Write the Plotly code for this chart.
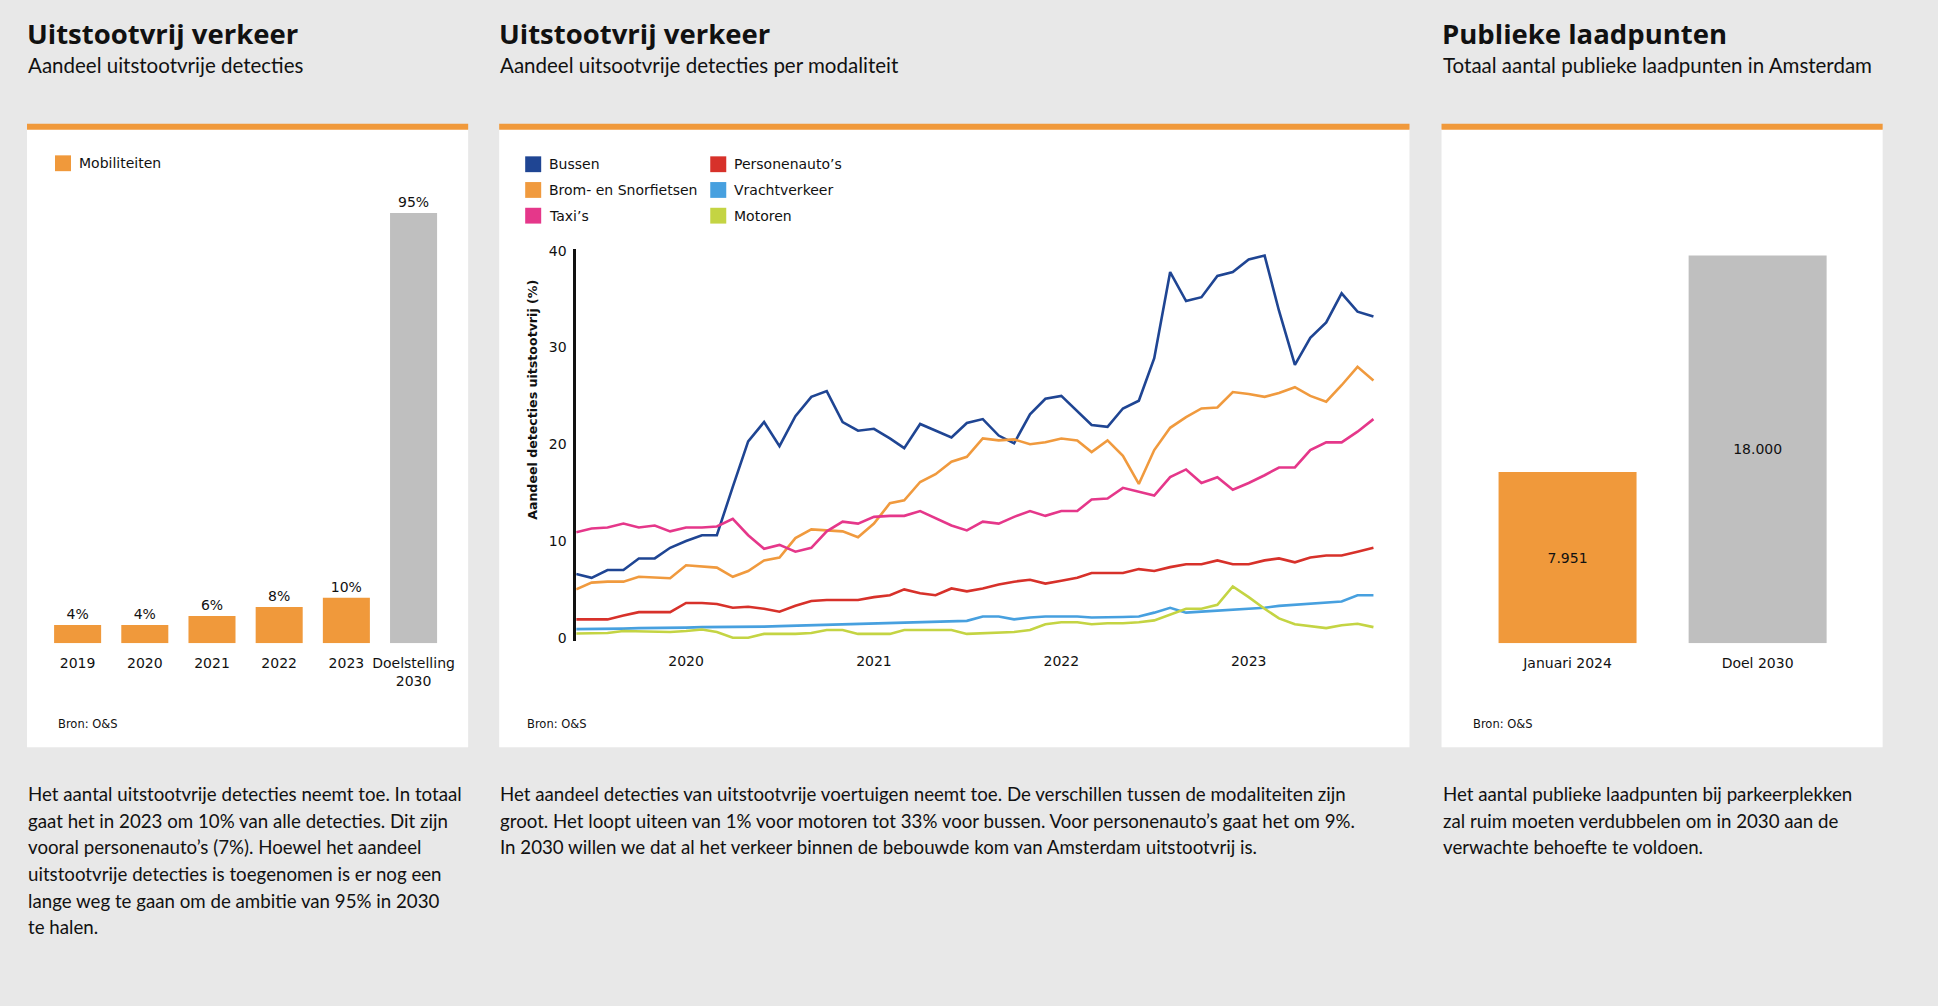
import pandas as pd
import plotly.graph_objects as go

W, H = 1938, 1006
BG = "#e8e8e8"
ORANGE = "#f0993b"
GREY = "#bfbfbf"
CHART_FONT = "DejaVu Sans"
TEXT_FONT = "Lato"
TITLE_FONT = "Open Sans"

# ---------------- data ----------------
years_cat = ["2019", "2020", "2021", "2022", "2023", "Doelstelling<br>2030"]
share_values = [4, 4, 6, 8, 10, 95]
share_labels = ["4%", "4%", "6%", "8%", "10%", "95%"]

months = pd.date_range("2019-06-01", periods=52, freq="MS")
bussen = [6.6, 6.2, 7.0, 7.0, 8.2, 8.2, 9.3, 10.0, 10.6, 10.6,
          15.6, 20.3, 22.3, 19.8, 22.9, 24.9, 25.5, 22.3, 21.4, 21.6,
          20.6, 19.6, 22.1, 21.4, 20.7, 22.2, 22.6, 20.9, 20.1, 23.1,
          24.7, 25.0, 23.4, 22.0, 21.8, 23.7, 24.5, 28.9, 37.8, 34.8,
          35.2, 37.4, 37.8, 39.1, 39.5, 33.8, 28.2, 31.0, 32.6, 35.6,
          33.7, 33.2]
brom = [5.0, 5.7, 5.8, 5.8, 6.3, 6.2, 6.15, 7.5, 7.4, 7.25,
        6.3, 6.9, 8.0, 8.3, 10.3, 11.2, 11.1, 11.0, 10.4, 11.8,
        13.9, 14.2, 16.1, 16.9, 18.2, 18.7, 20.6, 20.4, 20.5, 20.0,
        20.2, 20.6, 20.4, 19.2, 20.4, 18.8, 15.9, 19.4, 21.7, 22.8,
        23.7, 23.8, 25.4, 25.2, 24.9, 25.3, 25.9, 25.0, 24.4, 26.1,
        28.0, 26.6]
taxi = [10.9, 11.3, 11.4, 11.8, 11.4, 11.6, 11.0, 11.4, 11.4, 11.5,
        12.3, 10.6, 9.2, 9.6, 8.9, 9.3, 11.0, 12.0, 11.8, 12.5,
        12.6, 12.6, 13.1, 12.4, 11.6, 11.1, 12.0, 11.8, 12.5, 13.1,
        12.6, 13.1, 13.1, 14.3, 14.4, 15.5, 15.1, 14.7, 16.6, 17.4,
        16.0, 16.6, 15.3, 16.0, 16.8, 17.6, 17.6, 19.4, 20.2, 20.2,
        21.3, 22.6]
personenautos = [1.9, 1.9, 1.9, 2.3, 2.65, 2.65, 2.65, 3.6, 3.6, 3.5,
                 3.1, 3.2, 3.0, 2.7, 3.3, 3.8, 3.9, 3.9, 3.9, 4.2,
                 4.4, 5.0, 4.6, 4.4, 5.1, 4.8, 5.1, 5.5, 5.8, 6.0,
                 5.6, 5.9, 6.2, 6.7, 6.7, 6.7, 7.1, 6.9, 7.3, 7.6,
                 7.6, 8.0, 7.6, 7.6, 8.0, 8.2, 7.8, 8.3, 8.5, 8.5,
                 8.9, 9.3]
vracht = [0.9, 0.9, 0.95, 0.95, 1.0, 1.0, 1.05, 1.05, 1.1, 1.1,
          1.1, 1.15, 1.15, 1.2, 1.25, 1.3, 1.35, 1.4, 1.45, 1.5,
          1.55, 1.6, 1.65, 1.7, 1.75, 1.75, 2.2, 2.2, 1.9, 2.1,
          2.2, 2.2, 2.2, 2.1, 2.1, 2.15, 2.2, 2.6, 3.1, 2.6,
          2.7, 2.8, 2.9, 3.0, 3.1, 3.3, 3.4, 3.5, 3.6, 3.75,
          4.4, 4.4]
motoren = [0.45, 0.45, 0.5, 0.7, 0.65, 0.6, 0.6, 0.7, 0.85, 0.6,
           0.0, 0.0, 0.4, 0.4, 0.4, 0.5, 0.8, 0.8, 0.4, 0.4,
           0.4, 0.8, 0.8, 0.8, 0.8, 0.4, 0.45, 0.5, 0.6, 0.8,
           1.4, 1.6, 1.6, 1.4, 1.5, 1.5, 1.6, 1.8, 2.4, 3.0,
           3.0, 3.4, 5.3, 4.2, 3.0, 2.0, 1.4, 1.2, 1.0, 1.3,
           1.45, 1.1]

series_names = ["Bussen", "Brom- en Snorfietsen", "Taxi’s",
                "Personenauto’s", "Vrachtverkeer", "Motoren"]
series_values = [bussen, brom, taxi, personenautos, vracht, motoren]
series_colors = ["#1f4593", "#f09a3e", "#e5378a", "#d7312a", "#47a0df", "#c4d443"]

laad_cat = ["Januari 2024", "Doel 2030"]
laad_values = [7951, 18000]
laad_labels = ["7.951", "18.000"]

# ---------------- helpers ----------------
XS = 1.0045

def X(p):
    return p * XS / W

def Y(p):
    return 1 - p / H

fig = go.Figure()

# Panel 1 bars
fig.add_trace(go.Bar(
    x=years_cat, y=share_values, text=share_labels, textposition="outside",
    marker=dict(color=[ORANGE] * 5 + [GREY], line=dict(width=0)),
    width=0.7, cliponaxis=False,
    textfont=dict(family=CHART_FONT, size=14, color="#111"),
    xaxis="x", yaxis="y", showlegend=False, hoverinfo="skip"))

# Panel 2 lines
for name, vals, col in zip(series_names, series_values, series_colors):
    fig.add_trace(go.Scatter(
        x=months, y=vals, mode="lines", name=name,
        line=dict(color=col, width=2.6),
        xaxis="x2", yaxis="y2", showlegend=False))

# Panel 3 bars
fig.add_trace(go.Bar(
    x=laad_cat, y=laad_values, text=laad_labels, textposition="inside",
    insidetextanchor="middle",
    marker=dict(color=[ORANGE, GREY], line=dict(width=0)),
    width=0.726,
    textfont=dict(family=CHART_FONT, size=14, color="#111"),
    xaxis="x3", yaxis="y3", showlegend=False, hoverinfo="skip"))

shapes = []
annotations = []

# panels
for x0, x1 in [(27, 468), (499, 1409), (1441, 1882)]:
    shapes.append(dict(type="rect", xref="paper", yref="paper", layer="below",
                       x0=X(x0), x1=X(x1), y0=Y(749.5), y1=Y(124),
                       fillcolor="white", line=dict(width=0)))
    shapes.append(dict(type="rect", xref="paper", yref="paper", layer="below",
                       x0=X(x0), x1=X(x1), y0=Y(125), y1=Y(119),
                       fillcolor=ORANGE, line=dict(width=0)))

def text(x, y, s, size, family=TEXT_FONT, weight=400, color="#111", xanchor="left", angle=0):
    annotations.append(dict(xref="paper", yref="paper", x=X(x), y=Y(y), text=s,
                            showarrow=False, xanchor=xanchor, yanchor="middle",
                            textangle=angle,
                            font=dict(family=family, size=size, color=color, weight=weight)))

# titles
for x0, t, st in [(27, "Uitstootvrij verkeer", "Aandeel uitstootvrije detecties"),
                  (499, "Uitstootvrij verkeer", "Aandeel uitsootvrije detecties per modaliteit"),
                  (1441, "Publieke laadpunten", "Totaal aantal publieke laadpunten in Amsterdam")]:
    text(x0 - 2, 28, t, 27.5, family=TITLE_FONT, weight=700)
    text(x0 - 1, 60, st, 20.5)

# legends
def legend_item(x, y, color, label):
    shapes.append(dict(type="rect", xref="paper", yref="paper",
                       x0=X(x), x1=X(x + 16), y0=Y(y + 8), y1=Y(y - 8),
                       fillcolor=color, line=dict(width=0)))
    text(x + 22, y, label, 14, family=CHART_FONT)

legend_item(55, 159, ORANGE, "Mobiliteiten")
leg_pos = [(525, 160), (525, 186), (525, 212), (710, 160), (710, 186), (710, 212)]
for (lx, ly), name, col in zip(leg_pos, series_names, series_colors):
    legend_item(lx, ly, col, name)

# source
for sx in [56, 525, 1470]:
    text(sx, 726, "Bron: O&amp;S", 11.5, family=CHART_FONT)

# y-axis title of line chart
text(532, 398, "<b>Aandeel detecties uitstootvrij (%)</b>", 12.6, family=CHART_FONT,
     xanchor="center", angle=-90)

# body paragraphs
body1 = ["Het aantal uitstootvrije detecties neemt toe. In totaal",
         "gaat het in 2023 om 10% van alle detecties. Dit zijn",
         "vooral personenauto’s (7%). Hoewel het aandeel",
         "uitstootvrije detecties is toegenomen is er nog een",
         "lange weg te gaan om de ambitie van 95% in 2030",
         "te halen."]
body2 = ["Het aandeel detecties van uitstootvrije voertuigen neemt toe. De verschillen tussen de modaliteiten zijn",
         "groot. Het loopt uiteen van 1% voor motoren tot 33% voor bussen. Voor personenauto’s gaat het om 9%.",
         "In 2030 willen we dat al het verkeer binnen de bebouwde kom van Amsterdam uitstootvrij is."]
body3 = ["Het aantal publieke laadpunten bij parkeerplekken",
         "zal ruim moeten verdubbelen om in 2030 aan de",
         "verwachte behoefte te voldoen."]
for bx, lines in [(27, body1), (499, body2), (1441, body3)]:
    for i, ln in enumerate(lines):
        text(bx - 1, 797 + 26.9 * i, ln, 18.7)

axis_font = dict(family=CHART_FONT, size=14, color="#111")

fig.update_layout(
    width=W, height=H, margin=dict(l=0, r=0, t=0, b=0),
    paper_bgcolor=BG, plot_bgcolor="rgba(0,0,0,0)",
    shapes=shapes, annotations=annotations, showlegend=False,
    xaxis=dict(domain=[X(44), X(447)], type="category", tickfont=axis_font,
               showgrid=False, showline=False, ticks="", zeroline=False,
               fixedrange=True, ticklabelstandoff=10),
    yaxis=dict(domain=[Y(644.2), Y(186.4)], range=[0, 100], visible=False, fixedrange=True),
    xaxis2=dict(domain=[X(576), X(1378.6)], type="date",
                range=["2019-06-01", "2023-09-12"], tick0="2020-01-01", dtick="M12",
                tickformat="%Y", tickfont=axis_font, showgrid=False, showline=False,
                ticks="", zeroline=False, anchor="y2", ticklabelstandoff=10),
    yaxis2=dict(domain=[Y(641.7), Y(245.5)], range=[-0.3, 40.2], anchor="x2",
                tickvals=[0, 10, 20, 30, 40], tickfont=axis_font, showgrid=False,
                zeroline=False, showline=True, linecolor="#111", linewidth=2.6,
                ticks="", ticklabelstandoff=4),
    xaxis3=dict(domain=[X(1472), X(1852)], type="category", tickfont=axis_font,
                showgrid=False, showline=False, ticks="", zeroline=False,
                anchor="y3", ticklabelstandoff=10),
    yaxis3=dict(domain=[Y(644.2), Y(186.4)], range=[0, 21027], visible=False, anchor="x3"),
)

fig.write_html("out.html", config={"displayModeBar": False},
               post_script="document.body.style.margin='0';document.body.style.overflow='hidden';")
